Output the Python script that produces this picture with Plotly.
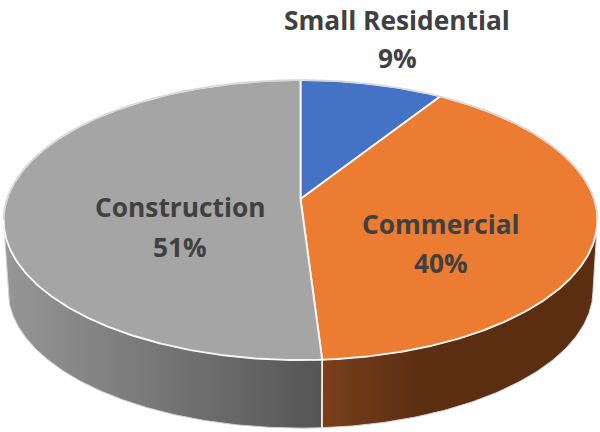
import numpy as np
import plotly.graph_objects as go

categories = ["Small Residential", "Commercial", "Construction"]
shares = [9, 40, 51]
face_colors = ["#4472C4", "#EB7C31", "#A5A5A5"]
name_positions = [(397, 20), (441, 224), (180, 207)]
value_positions = [(397, 58), (441, 263), (180, 247)]

# Perspective model of the disc: centre, half-axes and tilt strength, in pixels.
CX, CY, RX, RY, TILT = 300.5, 199, 293.6, 136.9, 0.15
BASE_CY, BASE_SCALE = 269.5, 0.985
TEXT_COLOR = "#404040"
RIM_COLOR = "#D4D4D4"

# Angle at which the disc reaches its widest point on screen.
WIDEST = np.degrees(np.arccos(-TILT))


def project(theta_deg, cy=CY, scale=1.0):
    """Map clockwise-from-top angles on the disc to screen coordinates."""
    t = np.radians(np.asarray(theta_deg, dtype=float))
    depth = 1 + TILT * np.cos(t)
    return CX + scale * RX * np.sin(t) / depth, cy - scale * RY * np.cos(t) / depth


def arc(start, stop):
    return np.linspace(start, stop, max(int(abs(stop - start) * 2), 2))


edges = np.cumsum([0] + shares) * 3.6
fig = go.Figure()


def add_side(start, stop, stops, x0, x1):
    top_x, top_y = project(arc(start, stop))
    low_x, low_y = project(arc(stop, start), BASE_CY, BASE_SCALE)
    fig.add_trace(go.Scatter(
        x=np.r_[top_x, low_x, top_x[0]], y=np.r_[top_y, low_y, top_y[0]],
        mode="lines", line=dict(color=RIM_COLOR, width=1), fill="toself",
        fillgradient=dict(type="horizontal", colorscale=stops, start=x0, stop=x1),
        hoverinfo="skip", showlegend=False))


# Side walls between the widest points, joined by a straight silhouette edge.
add_side(WIDEST, edges[2], [[0, "#7A3F1A"], [0.35, "#5B2E12"], [1, "#5B2E12"]], 322, 600)
add_side(edges[2], 360 - WIDEST, [[0, "#969696"], [1, "#555555"]], 5, 322)

# Seam between the two visible walls.
seam_top = project([edges[2]])
seam_low = project([edges[2]], BASE_CY, BASE_SCALE)
fig.add_trace(go.Scatter(
    x=[seam_top[0][0], seam_low[0][0]], y=[seam_top[1][0], seam_low[1][0]],
    mode="lines", line=dict(color="#F2F2F2", width=1.6),
    hoverinfo="skip", showlegend=False))

# Top face slices.
apex_x, apex_y = project([90.0], CY, 0.0)
for name, start, stop, color in zip(categories, edges[:-1], edges[1:], face_colors):
    xs, ys = project(arc(start, stop))
    fig.add_trace(go.Scatter(
        x=np.r_[apex_x, xs, apex_x], y=np.r_[apex_y, ys, apex_y],
        mode="lines", line=dict(color="#F6F6F6", width=1.9),
        fill="toself", fillcolor=color, name=name, showlegend=False, hoverinfo="name"))

# Thin grey outline round the back of the disc.
back_x, back_y = project(arc(-WIDEST, WIDEST))
fig.add_trace(go.Scatter(
    x=back_x, y=back_y, mode="lines", line=dict(color=RIM_COLOR, width=1.4),
    hoverinfo="skip", showlegend=False))

for name, share, (nx, ny), (vx, vy) in zip(categories, shares, name_positions, value_positions):
    for text, x, y in ((name, nx, ny), (f"{share}%", vx, vy)):
        fig.add_annotation(
            x=x, y=y, text=f"<b>{text}</b>", showarrow=False,
            xanchor="center", yanchor="middle",
            font=dict(family="Open Sans", size=26.3, color=TEXT_COLOR))

fig.update_layout(
    width=600, height=432, margin=dict(l=0, r=0, t=0, b=0),
    paper_bgcolor="white", plot_bgcolor="white", showlegend=False,
    xaxis=dict(range=[0, 600], visible=False, fixedrange=True),
    yaxis=dict(range=[432, 0], visible=False, fixedrange=True),
)
fig.write_html("out.html", config=dict(displayModeBar=False))
